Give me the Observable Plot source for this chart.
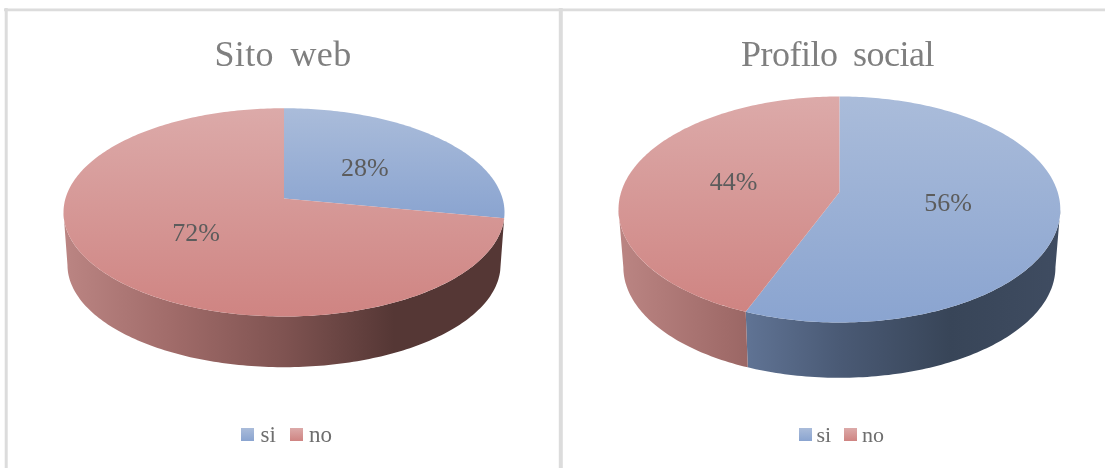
<!DOCTYPE html>
<html><head><meta charset="utf-8">
<script src="https://cdn.jsdelivr.net/npm/d3@7"></script>
<script src="https://cdn.jsdelivr.net/npm/@observablehq/plot@0.6"></script>
<style>html,body{margin:0;padding:0;background:#fff}svg{display:block;filter:blur(0.45px)}</style>
</head><body><div id="chart"></div>
<script>
const categories = ["si", "no"];
const sitoWeb = [28, 72];
const profiloSocial = [56, 44];
const titles = ["Sito web", "Profilo social"];

// geometry of each perspective-drawn pie (layout, not data)
const pies = [
  {id:"a", title:titles[0], values:sitoWeb, cx:283.5, rx:220.5, top:107.7, bottom:316, apex:198, baseScale:0.982, baseBottom:366.7,
   legend:{swatch:[241,290], text:[260,308.6], size:23}, titleSize:36, titleX:282.5, spacing:"0.01em"},
  {id:"b", title:titles[1], values:profiloSocial, cx:838.9, rx:220.9, top:96, bottom:322, apex:191.7, baseScale:0.978, baseBottom:377.3,
   legend:{swatch:[799,844], text:[816,861.5], size:22}, titleSize:36, titleX:837, spacing:"-0.014em"}
];
const topColors = {si:["#aabcda","#8aa4d0"], no:["#dcaaa9","#cf8482"]};
const sideColors = {si:["#7a90b6","#64789a","#4a5a75","#384558","#3f4c61"], no:["#bb8583","#a06b69","#7f5351","#553735","#553735"]};

function persp(p) {
  const far = p.apex - p.top, near = p.bottom - p.apex;
  const q = near / far, k = (q - 1) / (q + 1);
  return {k, B: far * (1 + k), A: p.rx * Math.sqrt(1 - k * k)};
}
function project(p, a, r = 1) {
  const {k, A, B} = persp(p);
  const X = r * Math.sin(a), Y = r * Math.cos(a), w = 1 + k * Y;
  return [p.cx + A * X / w, p.apex - B * Y / w];
}
function baseOf(p, pt) {
  const s = p.baseScale, ry = (p.bottom - p.top) / 2;
  const cyBase = p.baseBottom - s * ry, cy = (p.bottom + p.top) / 2;
  return [p.cx + s * (pt[0] - p.cx), cyBase + s * (pt[1] - cy)];
}
const rad = d => d * Math.PI / 180;
function arc(p, a0, a1) {
  const n = Math.max(2, Math.ceil(Math.abs(a1 - a0) / rad(1)));
  return d3.range(n + 1).map(i => project(p, a0 + (a1 - a0) * i / n));
}

const marks = [];
// defs holding the gradients
marks.push(() => {
  const defs = d3.create("svg:defs");
  for (const c of categories) {
    const g = defs.append("linearGradient").attr("id","top-"+c).attr("x1",0).attr("x2",0).attr("y1",0).attr("y2",1);
    topColors[c].forEach((col,i)=>g.append("stop").attr("offset",i).attr("stop-color",col));
    for (const p of pies) {
      const s = defs.append("linearGradient").attr("id",`side-${p.id}-${c}`).attr("gradientUnits","userSpaceOnUse")
        .attr("x1",p.cx-p.rx).attr("x2",p.cx+p.rx).attr("y1",0).attr("y2",0);
      sideColors[c].forEach((col,i)=>s.append("stop").attr("offset",i/4).attr("stop-color",col));
    }
  }
  return defs.node();
});

const scaleOpts = {x:d=>d[0], y:d=>d[1], stroke:"none"};
const frame = "#dcdcdc";
marks.push(Plot.ruleY([9.4],{x1:4,x2:1105,stroke:frame,strokeWidth:2.8}));
marks.push(Plot.ruleX([5.7],{y1:8,y2:468,stroke:frame,strokeWidth:3}));
marks.push(Plot.ruleX([560.3],{y1:8,y2:468,stroke:frame,strokeWidth:4}));

for (const p of pies) {
  const total = d3.sum(p.values);
  let acc = 0;
  const slices = p.values.map((v,i)=>{const s={c:categories[i],v,a0:acc/total*2*Math.PI,a1:(acc+v)/total*2*Math.PI};acc+=v;return s;});
  // the drum shows only between the two widest points of the ellipse
  const tilt = Math.asin(persp(p).k);
  const lo = Math.PI / 2 + tilt, hi = 3 * Math.PI / 2 - tilt;
  for (const s of slices) {
    const a0 = Math.max(s.a0, lo), a1 = Math.min(s.a1, hi);
    if (a1 - a0 < rad(5)) continue;
    const t = arc(p,a0,a1), b = t.map(q=>baseOf(p,q)).reverse();
    marks.push(Plot.line([...t,...b],{...scaleOpts,fill:`url(#side-${p.id}-${s.c})`,curve:"linear"}));
  }
  // top face
  for (const s of slices) {
    const pts = [[p.cx,p.apex],...arc(p,s.a0,s.a1)];
    marks.push(Plot.line(pts,{...scaleOpts,fill:`url(#top-${s.c})`,curve:"linear"}));
  }
  // value labels
  marks.push(Plot.text(slices,{
    x:s=>project(p,(s.a0+s.a1)/2,0.5)[0], y:s=>project(p,(s.a0+s.a1)/2,0.5)[1],
    text:s=>s.v+"%", fill:"#5c5c5c", fontSize:26, fontFamily:"Liberation Serif", textAnchor:"middle", lineAnchor:"middle"}));
  // title
  marks.push(Plot.text([p.title],{x:()=>p.titleX,y:()=>54,text:d=>d,fill:"#7f7f7f",fontSize:p.titleSize,fontFamily:"Liberation Serif",textAnchor:"middle",lineAnchor:"middle",
    render(index,scales,values,dims,ctx,next){const g=next(index,scales,values,dims,ctx);d3.select(g).selectAll("text").style("letter-spacing",p.spacing).style("word-spacing","0.2em");return g;}}));
  // legend
  const lg = categories.map((c,i)=>({c,sw:p.legend.swatch[i],tx:p.legend.text[i]}));
  for (const l of lg) {
    marks.push(Plot.rect([l],{x1:d=>d.sw,x2:d=>d.sw+13,y1:()=>428,y2:()=>441,fill:`url(#top-${l.c})`}));
  }
  marks.push(Plot.text(lg,{x:d=>d.tx,y:()=>434,text:d=>d.c,fill:"#6e6e6e",fontSize:p.legend.size,fontFamily:"Liberation Serif",textAnchor:"start",lineAnchor:"middle"}));
}

const chart = Plot.plot({
  width:1105,height:468,margin:0,
  style:{background:"#fff",overflow:"hidden"},
  x:{domain:[0,1105],range:[0,1105],axis:null},
  y:{domain:[0,468],range:[0,468],axis:null},
  marks
});
document.getElementById("chart").append(chart);
</script></body></html>
